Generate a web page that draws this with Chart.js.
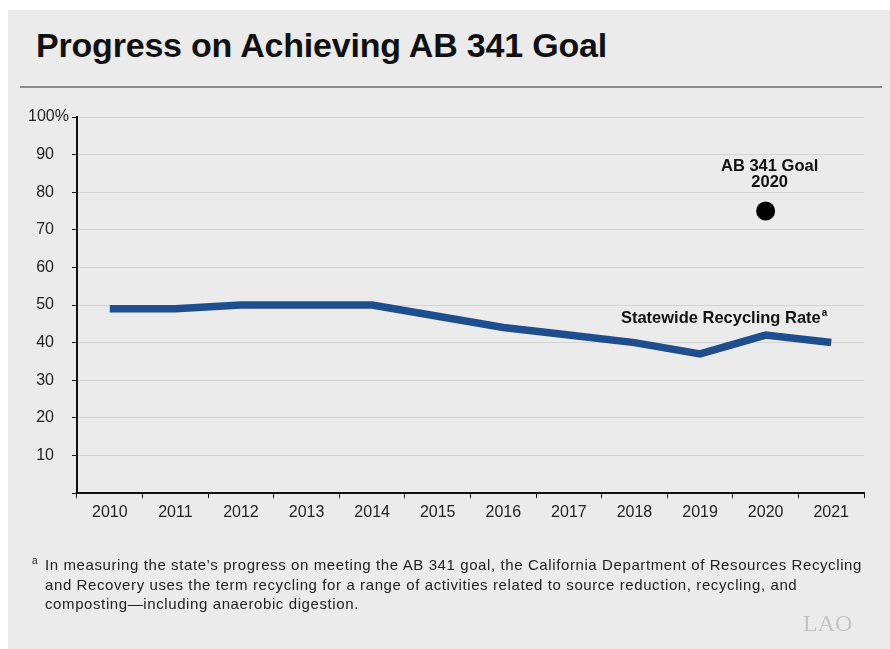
<!DOCTYPE html>
<html>
<head>
<meta charset="utf-8">
<script src="https://cdn.jsdelivr.net/npm/chart.js@4"></script>
<style>
  body { margin: 0; background: #fff; width: 890px; height: 649px; overflow: hidden; font-family: "Liberation Sans", Arial, sans-serif; }
  #panel { position: absolute; left: 8px; top: 10px; width: 882px; height: 639px; background: #ebebeb; }
  #title { position: absolute; left: 36px; top: 26px; font-size: 34px; font-weight: bold; color: #111; white-space: nowrap; letter-spacing: -0.2px; }
  #rule { position: absolute; left: 20px; top: 86px; width: 862px; height: 2px; background: #8c8c8c; }
  #wrap { position: absolute; left: 0; top: 0; width: 890px; height: 649px; }
  #note { position: absolute; left: 45px; top: 555px; width: 840px; font-size: 15px; letter-spacing: 0.6px; line-height: 19.5px; color: #222; white-space: nowrap; }
  #note sup { position: absolute; left: -13px; top: -4px; font-size: 10px; }
  #logo { position: absolute; left: 803px; top: 610px; font-family: "Liberation Serif", serif; font-size: 24px; color: #c4c4c4; letter-spacing: 0px; }
</style>
</head>
<body>
<div id="panel"></div>
<div id="title">Progress on Achieving AB 341 Goal</div>
<div id="rule"></div>
<div id="wrap"><canvas id="myChart" width="890" height="649"></canvas></div>
<div id="note"><sup>a</sup>In measuring the state’s progress on meeting the AB 341 goal, the California Department of Resources Recycling<br>and Recovery uses the term recycling for a range of activities related to source reduction, recycling, and<br>composting—including anaerobic digestion.</div>
<div id="logo">LAO</div>
<script>
var years = ['2010','2011','2012','2013','2014','2015','2016','2017','2018','2019','2020','2021'];
var recyclingRate = [49, 49, 50, 50, 50, 47, 44, 42, 40, 37, 42, 40];
var goalYear = '2020';
var goalValue = 75;
var yTickValues = [10, 20, 30, 40, 50, 60, 70, 80, 90, 100];

var goalData = years.map(function (y) { return y === goalYear ? goalValue : null; });

// y tick labels drawn by hand so the "%" hangs past the numbers
var labelsPlugin = {
  id: 'labelsPlugin',
  afterDraw: function (chart) {
    var ctx = chart.ctx;
    var ys = chart.scales.y, xs = chart.scales.x;
    ctx.save();
    ctx.fillStyle = '#222';
    ctx.font = '16px "Liberation Sans", Arial, sans-serif';
    ctx.textBaseline = 'middle';
    yTickValues.forEach(function (v) {
      var py = ys.getPixelForValue(v);
      if (v === 100) {
        ctx.textAlign = 'left';
        ctx.fillText('100%', 28, py);
      } else {
        ctx.textAlign = 'right';
        ctx.fillText(String(v), 54, py);
      }
    });
    // annotations
    ctx.fillStyle = '#111';
    ctx.font = 'bold 16.5px "Liberation Sans", Arial, sans-serif';
    ctx.textAlign = 'center';
    var gx = xs.getPixelForValue(years.indexOf(goalYear));
    var gy = ys.getPixelForValue(goalValue);
    ctx.fillText('AB 341 Goal', gx + 4, gy - 45);
    ctx.fillText('2020', gx + 4, gy - 29);
    var sx = (xs.getPixelForValue(9) + xs.getPixelForValue(10)) / 2 - 12;
    var sy = ys.getPixelForValue(47) + 2;
    ctx.fillText('Statewide Recycling Rate', sx, sy);
    var w = ctx.measureText('Statewide Recycling Rate').width;
    ctx.font = 'bold 10px "Liberation Sans", Arial, sans-serif';
    ctx.textAlign = 'left';
    ctx.fillText('a', sx + w / 2 + 1, sy - 5);
    ctx.restore();
  }
};

var ctx = document.getElementById('myChart').getContext('2d');
var myChart = new Chart(ctx, {
  type: 'line',
  data: {
    labels: years,
    datasets: [{
      label: 'Statewide Recycling Rate',
      data: recyclingRate,
      borderColor: '#1e4e8e',
      borderWidth: 7.5,
      pointRadius: 0,
      tension: 0,
      fill: false
    }, {
      label: 'AB 341 Goal',
      data: goalData,
      showLine: false,
      pointRadius: 9.5,
      pointBackgroundColor: '#000',
      pointBorderWidth: 0
    }]
  },
  options: {
    responsive: false,
    animation: false,
    layout: { padding: { left: 0, top: 117, right: 26, bottom: 116 } },
    plugins: {
      legend: { display: false },
      tooltip: { enabled: false }
    },
    scales: {
      y: {
        min: 0,
        max: 100,
        ticks: { display: false, stepSize: 10 },
        grid: { color: '#d4d4d4', lineWidth: 1, drawTicks: true, tickLength: 5, tickColor: '#111' },
        border: { color: '#111', width: 2 },
        afterFit: function (scale) { scale.width = 77; }
      },
      x: {
        offset: true,
        ticks: { color: '#222', font: { size: 16, family: '"Liberation Sans", Arial, sans-serif' }, padding: 5, maxRotation: 0 },
        grid: { offset: true, drawOnChartArea: false, drawTicks: true, tickLength: 5, tickColor: '#111' },
        border: { color: '#111', width: 2 },
        afterFit: function (scale) { scale.height = 40; }
      }
    }
  },
  plugins: [labelsPlugin]
});
</script>
</body>
</html>
